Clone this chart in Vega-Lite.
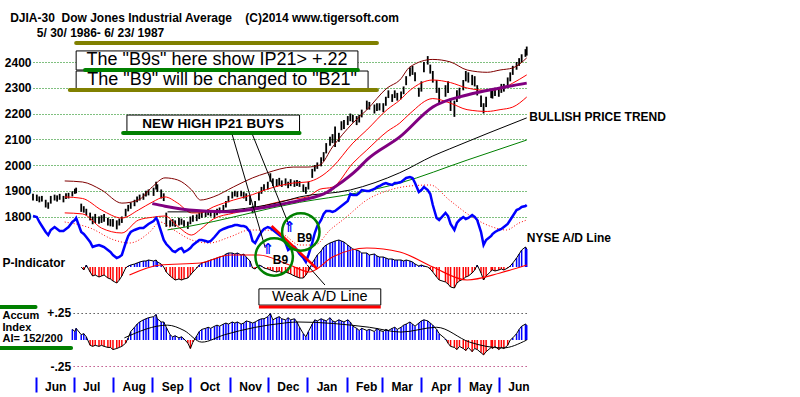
{
"$schema":"https://vega.github.io/schema/vega-lite/v6.json",
"width":495,"height":377,
"autosize":{"type":"none"},
"padding":{"left":33,"top":0,"right":272,"bottom":20},
"background":"#ffffff",
"config":{"view":{"stroke":null},"font":"Liberation Sans"},
"resolve":{"scale":{"y":"independent"}},
"datasets":{
"d":[
{"d":"1986-05-30","h":1888,"l":1862,"a":440},
{"d":"1986-06-02","h":1885,"l":1860,"a":430},
{"d":"1986-06-04","h":1878,"l":1855,"a":380},
{"d":"1986-06-06","h":1880,"l":1858,"a":340},
{"d":"1986-06-09","h":1865,"l":1835,"a":280},
{"d":"1986-06-11","h":1855,"l":1830,"a":250},
{"d":"1986-06-13","h":1880,"l":1850,"a":300},
{"d":"1986-06-16","h":1885,"l":1862,"a":330},
{"d":"1986-06-18","h":1882,"l":1858,"a":310},
{"d":"1986-06-20","h":1888,"l":1865,"a":290},
{"d":"1986-06-23","h":1880,"l":1855,"a":290},
{"d":"1986-06-25","h":1890,"l":1868,"a":310},
{"d":"1986-06-27","h":1892,"l":1870,"a":330},
{"d":"1986-06-30","h":1898,"l":1878,"a":380,"ai":0.10},
{"d":"1986-07-02","h":1908,"l":1888,"a":400,"ai":0.08},
{"d":"1986-07-03","h":1912,"l":1890,"a":420,"ai":0.11},
{"d":"1986-07-07","h":1850,"l":1818,"a":280,"pi":0,"ai":0.05},
{"d":"1986-07-09","h":1840,"l":1815,"a":260,"pi":-30,"ai":0.06},
{"d":"1986-07-11","h":1830,"l":1805,"a":230,"pi":20,"ai":0.03},
{"d":"1986-07-14","h":1815,"l":1785,"a":180,"pi":-50,"ai":-0.05},
{"d":"1986-07-16","h":1800,"l":1770,"a":130,"pi":-90,"ai":-0.06},
{"d":"1986-07-18","h":1810,"l":1775,"a":140,"pi":-80,"ai":-0.05},
{"d":"1986-07-21","h":1800,"l":1772,"a":150,"pi":-100,"ai":-0.06},
{"d":"1986-07-23","h":1805,"l":1775,"a":140,"pi":-90,"ai":-0.05},
{"d":"1986-07-25","h":1810,"l":1780,"a":130,"pi":-80,"ai":-0.06},
{"d":"1986-07-28","h":1795,"l":1765,"a":100,"pi":-110,"ai":-0.07},
{"d":"1986-07-30","h":1790,"l":1762,"a":80,"pi":-120,"ai":-0.07},
{"d":"1986-08-01","h":1790,"l":1760,"a":50,"pi":-140,"ai":-0.09},
{"d":"1986-08-04","h":1785,"l":1750,"a":20,"pi":-160,"ai":-0.08},
{"d":"1986-08-06","h":1792,"l":1765,"a":30,"pi":-130,"ai":-0.07},
{"d":"1986-08-08","h":1800,"l":1775,"a":50,"pi":-90,"ai":-0.06},
{"d":"1986-08-11","h":1830,"l":1800,"a":170,"pi":-10,"ai":-0.03},
{"d":"1986-08-13","h":1845,"l":1820,"a":240,"pi":10,"ai":0.02},
{"d":"1986-08-15","h":1855,"l":1830,"a":280,"pi":20,"ai":0.08},
{"d":"1986-08-18","h":1865,"l":1840,"a":300,"pi":30,"ai":0.12},
{"d":"1986-08-20","h":1878,"l":1855,"a":310,"pi":40,"ai":0.15},
{"d":"1986-08-22","h":1885,"l":1862,"a":320,"pi":50,"ai":0.17},
{"d":"1986-08-25","h":1890,"l":1865,"a":320,"pi":60,"ai":0.19},
{"d":"1986-08-27","h":1900,"l":1878,"a":340,"pi":60,"ai":0.20},
{"d":"1986-08-29","h":1905,"l":1882,"a":360,"pi":70,"ai":0.21},
{"d":"1986-09-02","h":1912,"l":1880,"a":390,"pi":60,"ai":0.22},
{"d":"1986-09-04","h":1935,"l":1905,"a":420,"pi":70,"ai":0.24},
{"d":"1986-09-05","h":1925,"l":1895,"a":400,"pi":50,"ai":0.20},
{"d":"1986-09-08","h":1905,"l":1870,"a":280,"pi":30,"ai":0.17},
{"d":"1986-09-10","h":1890,"l":1860,"a":200,"pi":0,"ai":0.17},
{"d":"1986-09-12","h":1815,"l":1760,"a":160,"pi":-50,"ai":0.12},
{"d":"1986-09-15","h":1785,"l":1760,"a":120,"pi":-90,"ai":0.05},
{"d":"1986-09-17","h":1790,"l":1762,"a":90,"pi":-110,"ai":0.03},
{"d":"1986-09-19","h":1785,"l":1760,"a":80,"pi":-130,"ai":0.04},
{"d":"1986-09-22","h":1795,"l":1765,"a":110,"pi":-120,"ai":0.02},
{"d":"1986-09-24","h":1792,"l":1768,"a":120,"pi":-130,"ai":0.03},
{"d":"1986-09-26","h":1785,"l":1760,"a":80,"pi":-120,"ai":0.01},
{"d":"1986-09-29","h":1780,"l":1752,"a":100,"pi":-110,"ai":-0.03},
{"d":"1986-10-01","h":1800,"l":1770,"a":120,"pi":-80,"ai":-0.08},
{"d":"1986-10-03","h":1805,"l":1780,"a":150,"pi":-50,"ai":-0.02},
{"d":"1986-10-06","h":1808,"l":1782,"a":180,"pi":-10,"ai":0.04},
{"d":"1986-10-08","h":1815,"l":1790,"a":200,"pi":20,"ai":0.08},
{"d":"1986-10-10","h":1818,"l":1795,"a":200,"pi":40,"ai":0.10},
{"d":"1986-10-13","h":1822,"l":1798,"a":190,"pi":50,"ai":0.11},
{"d":"1986-10-15","h":1828,"l":1805,"a":180,"pi":60,"ai":0.12},
{"d":"1986-10-17","h":1825,"l":1800,"a":190,"pi":70,"ai":0.11},
{"d":"1986-10-20","h":1820,"l":1795,"a":230,"pi":80,"ai":0.13},
{"d":"1986-10-22","h":1830,"l":1805,"a":260,"pi":90,"ai":0.14},
{"d":"1986-10-24","h":1835,"l":1812,"a":290,"pi":100,"ai":0.13},
{"d":"1986-10-27","h":1845,"l":1820,"a":310,"pi":110,"ai":0.15},
{"d":"1986-10-29","h":1860,"l":1835,"a":320,"pi":130,"ai":0.16},
{"d":"1986-10-31","h":1880,"l":1855,"a":330,"pi":140,"ai":0.15},
{"d":"1986-11-03","h":1895,"l":1870,"a":340,"pi":140,"ai":0.17},
{"d":"1986-11-05","h":1900,"l":1878,"a":350,"pi":130,"ai":0.16},
{"d":"1986-11-07","h":1898,"l":1875,"a":350,"pi":140,"ai":0.17},
{"d":"1986-11-10","h":1900,"l":1878,"a":340,"pi":120,"ai":0.15},
{"d":"1986-11-12","h":1895,"l":1870,"a":340,"pi":130,"ai":0.16},
{"d":"1986-11-14","h":1890,"l":1860,"a":330,"pi":100,"ai":0.18},
{"d":"1986-11-17","h":1880,"l":1845,"a":280,"pi":60,"ai":0.17},
{"d":"1986-11-19","h":1840,"l":1812,"a":190,"pi":-10,"ai":0.16},
{"d":"1986-11-21","h":1860,"l":1825,"a":170,"pi":-20,"ai":0.17},
{"d":"1986-11-24","h":1895,"l":1862,"a":240,"pi":20,"ai":0.19},
{"d":"1986-11-26","h":1915,"l":1888,"a":280,"pi":10,"ai":0.20},
{"d":"1986-11-28","h":1925,"l":1900,"a":310,"pi":-10,"ai":0.20},
{"d":"1986-12-01","h":1935,"l":1905,"a":330,"pi":-20,"ai":0.22},
{"d":"1986-12-03","h":1968,"l":1935,"a":320,"pi":-30,"ai":0.25},
{"d":"1986-12-05","h":1948,"l":1918,"a":300,"pi":-40,"ai":0.19},
{"d":"1986-12-08","h":1945,"l":1915,"a":270,"pi":-50,"ai":0.21},
{"d":"1986-12-10","h":1950,"l":1920,"a":250,"pi":-40,"ai":0.22},
{"d":"1986-12-12","h":1940,"l":1915,"a":230,"pi":-60,"ai":0.20},
{"d":"1986-12-15","h":1948,"l":1920,"a":170,"pi":-50,"ai":0.19},
{"d":"1986-12-17","h":1935,"l":1910,"a":100,"pi":-60,"ai":0.21},
{"d":"1986-12-19","h":1945,"l":1918,"a":120,"pi":-70,"ai":0.19},
{"d":"1986-12-22","h":1940,"l":1915,"a":130,"pi":-90,"ai":0.20},
{"d":"1986-12-24","h":1942,"l":1918,"a":100,"pi":-100,"ai":0.17},
{"d":"1986-12-26","h":1938,"l":1915,"a":60,"pi":-110,"ai":0.12},
{"d":"1986-12-29","h":1925,"l":1895,"a":20,"pi":-110,"ai":0.06},
{"d":"1986-12-31","h":1915,"l":1888,"a":-20,"pi":-80,"ai":0.03},
{"d":"1987-01-02","h":1935,"l":1905,"a":50,"pi":-40,"ai":0.08},
{"d":"1987-01-05","h":1985,"l":1950,"a":170,"pi":40,"ai":0.15},
{"d":"1987-01-07","h":2000,"l":1975,"a":270,"pi":80,"ai":0.19},
{"d":"1987-01-09","h":2010,"l":1985,"a":340,"pi":120,"ai":0.18},
{"d":"1987-01-12","h":2030,"l":1995,"a":400,"pi":160,"ai":0.20},
{"d":"1987-01-14","h":2050,"l":2015,"a":460,"pi":200,"ai":0.19},
{"d":"1987-01-16","h":2085,"l":2045,"a":490,"pi":220,"ai":0.18},
{"d":"1987-01-19","h":2110,"l":2075,"a":490,"pi":240,"ai":0.21},
{"d":"1987-01-21","h":2120,"l":2085,"a":480,"pi":250,"ai":0.18},
{"d":"1987-01-23","h":2150,"l":2070,"a":490,"pi":260,"ai":0.17},
{"d":"1987-01-26","h":2125,"l":2090,"a":520,"pi":270,"ai":0.19},
{"d":"1987-01-28","h":2170,"l":2135,"a":540,"pi":260,"ai":0.18},
{"d":"1987-01-30","h":2175,"l":2140,"a":560,"pi":250,"ai":0.17},
{"d":"1987-02-02","h":2190,"l":2155,"a":590,"pi":220,"ai":0.19},
{"d":"1987-02-04","h":2200,"l":2170,"a":660,"pi":200,"ai":0.17},
{"d":"1987-02-06","h":2195,"l":2165,"a":650,"pi":180,"ai":0.13},
{"d":"1987-02-09","h":2190,"l":2155,"a":650,"pi":170,"ai":0.11},
{"d":"1987-02-11","h":2195,"l":2165,"a":670,"pi":160,"ai":0.09},
{"d":"1987-02-13","h":2215,"l":2185,"a":700,"pi":140,"ai":0.11},
{"d":"1987-02-17","h":2250,"l":2215,"a":690,"pi":140,"ai":0.09},
{"d":"1987-02-19","h":2245,"l":2215,"a":690,"pi":120,"ai":0.10},
{"d":"1987-02-23","h":2235,"l":2200,"a":710,"pi":130,"ai":0.08},
{"d":"1987-02-25","h":2240,"l":2210,"a":730,"pi":110,"ai":0.11},
{"d":"1987-02-27","h":2240,"l":2212,"a":740,"pi":100,"ai":0.09},
{"d":"1987-03-02","h":2240,"l":2205,"a":760,"pi":100,"ai":0.08},
{"d":"1987-03-04","h":2265,"l":2230,"a":770,"pi":90,"ai":0.10},
{"d":"1987-03-06","h":2290,"l":2260,"a":760,"pi":80,"ai":0.09},
{"d":"1987-03-09","h":2275,"l":2245,"a":750,"pi":80,"ai":0.11},
{"d":"1987-03-11","h":2290,"l":2260,"a":770,"pi":70,"ai":0.12},
{"d":"1987-03-13","h":2280,"l":2250,"a":770,"pi":70,"ai":0.10},
{"d":"1987-03-16","h":2285,"l":2255,"a":780,"pi":70,"ai":0.12},
{"d":"1987-03-18","h":2305,"l":2275,"a":800,"pi":60,"ai":0.14},
{"d":"1987-03-20","h":2345,"l":2310,"a":820,"pi":70,"ai":0.15},
{"d":"1987-03-23","h":2380,"l":2345,"a":830,"pi":60,"ai":0.17},
{"d":"1987-03-25","h":2385,"l":2350,"a":820,"pi":50,"ai":0.15},
{"d":"1987-03-27","h":2360,"l":2325,"a":770,"pi":30,"ai":0.13},
{"d":"1987-03-30","h":2300,"l":2265,"a":680,"pi":10,"ai":0.16},
{"d":"1987-04-01","h":2325,"l":2285,"a":700,"pi":20,"ai":0.18},
{"d":"1987-04-03","h":2400,"l":2360,"a":730,"pi":10,"ai":0.19},
{"d":"1987-04-06","h":2423,"l":2390,"a":700,"pi":0,"ai":0.18},
{"d":"1987-04-08","h":2390,"l":2355,"a":660,"pi":-20,"ai":0.16},
{"d":"1987-04-10","h":2365,"l":2320,"a":550,"pi":-50,"ai":0.14},
{"d":"1987-04-13","h":2330,"l":2280,"a":420,"pi":-100,"ai":0.10},
{"d":"1987-04-15","h":2300,"l":2240,"a":400,"pi":-130,"ai":0.06},
{"d":"1987-04-20","h":2310,"l":2265,"a":470,"pi":-150,"ai":0.01},
{"d":"1987-04-22","h":2325,"l":2280,"a":440,"pi":-170,"ai":-0.03},
{"d":"1987-04-24","h":2260,"l":2210,"a":360,"pi":-200,"ai":-0.06},
{"d":"1987-04-27","h":2250,"l":2187,"a":300,"pi":-210,"ai":-0.07},
{"d":"1987-04-29","h":2290,"l":2245,"a":370,"pi":-160,"ai":-0.09},
{"d":"1987-05-01","h":2300,"l":2258,"a":400,"pi":-140,"ai":-0.06},
{"d":"1987-05-04","h":2330,"l":2290,"a":430,"pi":-120,"ai":-0.08},
{"d":"1987-05-06","h":2365,"l":2325,"a":410,"pi":-100,"ai":-0.10},
{"d":"1987-05-08","h":2360,"l":2320,"a":420,"pi":-90,"ai":-0.07},
{"d":"1987-05-11","h":2350,"l":2310,"a":450,"pi":-60,"ai":-0.11},
{"d":"1987-05-13","h":2345,"l":2305,"a":430,"pi":-30,"ai":-0.08},
{"d":"1987-05-15","h":2310,"l":2270,"a":400,"pi":20,"ai":-0.09},
{"d":"1987-05-18","h":2270,"l":2225,"a":280,"pi":-60,"ai":-0.12},
{"d":"1987-05-20","h":2240,"l":2200,"a":150,"pi":-130,"ai":-0.14},
{"d":"1987-05-22","h":2265,"l":2225,"a":200,"pi":-90,"ai":-0.11},
{"d":"1987-05-26","h":2295,"l":2260,"a":240,"pi":-40,"ai":-0.07},
{"d":"1987-05-27","h":2290,"l":2258,"a":260,"pi":-30,"ai":-0.08},
{"d":"1987-05-29","h":2300,"l":2268,"a":280,"pi":-40,"ai":-0.06},
{"d":"1987-06-01","h":2298,"l":2265,"a":300,"pi":-30,"ai":-0.09},
{"d":"1987-06-03","h":2315,"l":2280,"a":310,"pi":-20,"ai":-0.07},
{"d":"1987-06-05","h":2315,"l":2285,"a":330,"pi":-30,"ai":-0.08},
{"d":"1987-06-08","h":2340,"l":2305,"a":360,"pi":-10,"ai":-0.05},
{"d":"1987-06-10","h":2360,"l":2325,"a":400,"pi":10,"ai":0.00},
{"d":"1987-06-12","h":2385,"l":2350,"a":440,"pi":40,"ai":0.02},
{"d":"1987-06-15","h":2400,"l":2370,"a":500,"pi":90,"ai":0.06},
{"d":"1987-06-17","h":2415,"l":2385,"a":510,"pi":130,"ai":0.10},
{"d":"1987-06-19","h":2430,"l":2400,"a":530,"pi":170,"ai":0.13},
{"d":"1987-06-22","h":2450,"l":2420,"a":540,"pi":200,"ai":0.15},
{"d":"1987-06-23","h":2460,"l":2425,"a":550,"pi":180,"ai":0.14}
],
"bands":[
{"d":"1986-06-24","u":1938,"m":1876,"lo":1814},
{"d":"1986-07-08","u":1934,"m":1870,"lo":1810},
{"d":"1986-07-23","u":1903,"m":1825,"lo":1755},
{"d":"1986-08-08","u":1852,"m":1794,"lo":1736},
{"d":"1986-08-21","u":1864,"m":1825,"lo":1786},
{"d":"1986-09-01","u":1915,"m":1856,"lo":1797},
{"d":"1986-09-11","u":1950,"m":1876,"lo":1802},
{"d":"1986-09-21","u":1942,"m":1852,"lo":1762},
{"d":"1986-10-02","u":1903,"m":1814,"lo":1728},
{"d":"1986-10-09","u":1864,"m":1814,"lo":1750},
{"d":"1986-10-19","u":1876,"m":1837,"lo":1790},
{"d":"1986-11-04","u":1915,"m":1864,"lo":1813},
{"d":"1986-11-19","u":1950,"m":1885,"lo":1830},
{"d":"1986-11-30","u":1969,"m":1905,"lo":1845},
{"d":"1986-12-21","u":1992,"m":1930,"lo":1868},
{"d":"1987-01-01","u":1992,"m":1934,"lo":1876},
{"d":"1987-01-11","u":2000,"m":1953,"lo":1906},
{"d":"1987-01-21","u":2070,"m":1992,"lo":1914},
{"d":"1987-02-06","u":2163,"m":2085,"lo":2007},
{"d":"1987-02-17","u":2214,"m":2136,"lo":2058},
{"d":"1987-03-05","u":2299,"m":2215,"lo":2130},
{"d":"1987-03-15","u":2330,"m":2252,"lo":2163},
{"d":"1987-03-23","u":2381,"m":2290,"lo":2200},
{"d":"1987-04-10","u":2410,"m":2330,"lo":2258},
{"d":"1987-04-24","u":2400,"m":2320,"lo":2240},
{"d":"1987-05-07","u":2369,"m":2299,"lo":2215},
{"d":"1987-05-23","u":2360,"m":2290,"lo":2208},
{"d":"1987-06-02","u":2369,"m":2295,"lo":2215},
{"d":"1987-06-12","u":2377,"m":2318,"lo":2225},
{"d":"1987-06-23","u":2416,"m":2350,"lo":2264}
],
"ma":[
{"d":"1986-09-01","p":1850},{"d":"1986-09-11","p":1840},{"d":"1986-09-30","p":1825},{"d":"1986-10-29","p":1818},{"d":"1986-11-19","p":1828},{"d":"1986-12-16","p":1852},{"d":"1986-12-28","p":1864},{"d":"1987-01-17","p":1895},{"d":"1987-01-23","p":1915},{"d":"1987-02-10","p":1985},{"d":"1987-02-17","p":2020},{"d":"1987-03-15","p":2109},{"d":"1987-04-10","p":2225},{"d":"1987-05-07","p":2272},{"d":"1987-06-02","p":2299},{"d":"1987-06-23","p":2318}
],
"bt":[
{"d":"1986-09-13","b":1818},{"d":"1986-10-03","b":1818},{"d":"1986-12-08","b":1852},{"d":"1986-12-26","b":1876},{"d":"1987-02-04","b":1903},{"d":"1987-03-15","b":1970},{"d":"1987-04-10","b":2035},{"d":"1987-04-23","b":2062},{"d":"1987-06-23","b":2183}
],
"gt":[
{"d":"1986-09-13","g":1748},{"d":"1986-09-27","g":1759},{"d":"1986-12-26","g":1855},{"d":"1987-02-10","g":1892},{"d":"1987-03-15","g":1930},{"d":"1987-05-07","g":2019},{"d":"1987-06-23","g":2097}
],
"adma":[
{"d":"1986-06-24","a":380},{"d":"1986-07-14","a":320},{"d":"1986-08-02","a":200},{"d":"1986-08-14","a":170},{"d":"1986-08-30","a":280},{"d":"1986-09-07","a":380},{"d":"1986-09-18","a":300},{"d":"1986-10-02","a":200},{"d":"1986-10-16","a":170},{"d":"1986-11-01","a":230},{"d":"1986-11-17","a":300},{"d":"1986-11-28","a":300},{"d":"1986-12-14","a":250},{"d":"1986-12-26","a":150},{"d":"1987-01-07","a":150},{"d":"1987-01-19","a":300},{"d":"1987-01-31","a":420},{"d":"1987-02-17","a":600},{"d":"1987-03-07","a":700},{"d":"1987-03-23","a":740},{"d":"1987-04-08","a":750},{"d":"1987-04-23","a":600},{"d":"1987-05-11","a":430},{"d":"1987-05-27","a":330},{"d":"1987-06-07","a":300},{"d":"1987-06-17","a":370},{"d":"1987-06-23","a":400}
],
"pma":[
{"d":"1986-08-14","pi":-80},{"d":"1986-09-07","pi":20},{"d":"1986-10-09","pi":40},{"d":"1986-11-01","pi":120},{"d":"1986-11-24","pi":120},{"d":"1986-12-18","pi":20},{"d":"1987-01-03","pi":-50},{"d":"1987-01-21","pi":100},{"d":"1987-02-17","pi":190},{"d":"1987-03-15","pi":150},{"d":"1987-04-10","pi":0},{"d":"1987-05-07","pi":-130},{"d":"1987-06-02","pi":-60},{"d":"1987-06-23","pi":20}
],
"aima":[
{"d":"1986-08-10","ai":0.02},{"d":"1986-09-13","ai":0.14},{"d":"1986-09-26","ai":0.09},{"d":"1986-10-10","ai":-0.02},{"d":"1986-10-28","ai":0.05},{"d":"1986-12-14","ai":0.16},{"d":"1986-12-24","ai":0.17},{"d":"1987-02-19","ai":0.12},{"d":"1987-03-16","ai":0.075},{"d":"1987-04-13","ai":0.12},{"d":"1987-05-09","ai":-0.02},{"d":"1987-06-04","ai":-0.075},{"d":"1987-06-23","ai":0.0}
],
"accl":[{"d":"1986-07-01","d2":"1987-06-24","a":0.25},{"d":"1986-07-01","d2":"1987-06-24","a":-0.25}],
"acclab":[{"d":"1986-06-29","a":0.25,"t":"+.25"},{"d":"1986-06-29","a":-0.25,"t":"-.25"}],
"boxes":[{"d":"1986-07-03","d2":"1987-02-10","p":2443,"p2":2369},{"d":"1986-07-03","d2":"1987-02-18","p":2365,"p2":2295},{"d":"1986-08-12","d2":"1986-12-26","p":2194,"p2":2128},{"d":"1986-11-24","d2":"1987-02-28","p":1519,"p2":1456}],
"olive":[{"d":"1986-07-03","d2":"1987-02-25","p":2474},{"d":"1986-06-28","d2":"1987-02-25","p":2291}],
"grn":[{"d":"1986-07-10","d2":"1987-02-10","p":2369},{"d":"1986-08-09","d2":"1986-12-26","p":2124},{"d":"1986-05-04","d2":"1986-06-01","p":1449},{"d":"1986-05-04","d2":"1986-06-29","p":1289}],
"redu":[{"d":"1986-11-24","d2":"1987-02-28","p":1449}],
"lead":[{"d":"1986-11-03","p":2117,"d2":"1986-11-29","p2":1678},{"d":"1986-11-19","p":2117,"d2":"1986-12-18","p2":1763},{"d":"1987-01-01","p":1612,"d2":"1987-01-15","p2":1534}],
"redl":[{"d":"1986-12-04","p":1763,"d2":"1987-01-09","p2":1596}],
"circ":[{"d":"1986-12-27","p":1740},{"d":"1986-12-06","p":1643}],
"hdr":[{"d":"1986-05-12","p":2571,"t":"DJIA-30\u00a0 Dow Jones Industrial Average\u00a0\u00a0\u00a0 (C)2014 www.tigersoft.com"},{"d":"1986-06-02","p":2513,"t":"5/ 30/ 1986- 6/ 23/ 1987"}],
"big":[{"d":"1986-10-22","p":2406,"t":"The \"B9s\" here show IP21> +.22"},{"d":"1986-10-26","p":2330,"t":"The \"B9\" will be changed to \"B21\""}],
"weak":[{"d":"1987-01-11","p":1487,"t":"Weak A/D Line"}],
"nh":[{"d":"1986-10-19","p":2159,"t":"NEW HIGH IP21 BUYS"}],
"lbl":[{"d":"1987-06-25","p":2186,"t":"BULLISH PRICE TREND"},{"d":"1987-06-23","p":1717,"t":"NYSE A/D Line"},{"d":"1986-05-06","p":1620,"t":"P-Indicator"}],
"acc":[{"d":"1986-05-06","p":1412,"t":"Accum"},{"d":"1986-05-06","p":1368,"t":"Index"},{"d":"1986-05-06","p":1324,"t":"AI= 152/200"}],
"b9":[{"d":"1986-12-30","p":1718,"t":"B9"},{"d":"1986-12-11","p":1633,"t":"B9"}],
"arr":[{"d":"1986-12-18","p":1758,"t":"⇑"},{"d":"1986-12-01","p":1672,"t":"⇑"}]
},
"layer":[
 {"data":{"name":"d"},"mark":{"type":"rule","color":"#000000","strokeWidth":1.8},
  "encoding":{
   "x":{"field":"d","type":"temporal","title":null,"scale":{"type":"utc","domain":[{"year":1986,"month":5,"date":30,"utc":true},{"year":1987,"month":6,"date":24,"utc":true}]},
        "axis":{"title":null,"format":"%b","tickCount":{"interval":"month","step":1},"domain":false,"grid":false,"ticks":true,"tickColor":"#0000ff","tickWidth":2,"tickSize":15,"labelAlign":"left","labelOffset":9,"labelPadding":-11,"labelBaseline":"top","labelFont":"Liberation Sans","labelFontWeight":"bold","labelFontSize":12,"labelColor":"#000000","labelOverlap":false,"labelFlush":false,"labelBound":false}},
   "y":{"field":"l","type":"quantitative","scale":{"domain":[1176.7,2640.8],"nice":false,"zero":false},
        "axis":{"title":null,"format":"d","values":[1800,1900,2000,2100,2200,2300,2400],"domain":false,"ticks":false,"labelPadding":2,"labelFont":"Liberation Sans","labelFontWeight":"bold","labelFontSize":12,"labelColor":"#000000","grid":true,"gridColor":"#008000","gridDash":[1,2],"gridWidth":1,"gridOpacity":1}},
   "y2":{"field":"h"}}},
 {"data":{"name":"bands"},"mark":{"type":"line","color":"#800000","strokeWidth":1,"interpolate":"monotone"},"encoding":{"x":{"field":"d","type":"temporal","title":null},"y":{"field":"u","type":"quantitative","axis":null,"scale":{"domain":[1176.7,2640.8],"nice":false,"zero":false}}}},
 {"data":{"name":"bands"},"mark":{"type":"line","color":"#ff0000","strokeWidth":1,"interpolate":"monotone"},"encoding":{"x":{"field":"d","type":"temporal","title":null},"y":{"field":"m","type":"quantitative","axis":null,"scale":{"domain":[1176.7,2640.8],"nice":false,"zero":false}}}},
 {"data":{"name":"bands"},"mark":{"type":"line","color":"#ff0000","strokeWidth":1,"interpolate":"monotone"},"encoding":{"x":{"field":"d","type":"temporal","title":null},"y":{"field":"lo","type":"quantitative","axis":null,"scale":{"domain":[1176.7,2640.8],"nice":false,"zero":false}}}},
 {"data":{"name":"bt"},"mark":{"type":"line","color":"#000000","strokeWidth":1,"interpolate":"monotone"},"encoding":{"x":{"field":"d","type":"temporal","title":null},"y":{"field":"b","type":"quantitative","axis":null,"scale":{"domain":[1176.7,2640.8],"nice":false,"zero":false}}}},
 {"data":{"name":"gt"},"mark":{"type":"line","color":"#008000","strokeWidth":1,"interpolate":"monotone"},"encoding":{"x":{"field":"d","type":"temporal","title":null},"y":{"field":"g","type":"quantitative","axis":null,"scale":{"domain":[1176.7,2640.8],"nice":false,"zero":false}}}},
 {"data":{"name":"ma"},"mark":{"type":"line","color":"#800080","strokeWidth":3,"interpolate":"monotone"},"encoding":{"x":{"field":"d","type":"temporal","title":null},"y":{"field":"p","type":"quantitative","axis":null,"scale":{"domain":[1176.7,2640.8],"nice":false,"zero":false}}}},
 {"data":{"name":"adma"},"mark":{"type":"line","color":"#ff0000","strokeWidth":1,"strokeDash":[1,2],"interpolate":"monotone"},"encoding":{"x":{"field":"d","type":"temporal","title":null},"y":{"field":"a","type":"quantitative","axis":null,"scale":{"domain":[-1170,2600],"nice":false,"zero":false}}}},
 {"data":{"name":"d"},"mark":{"type":"line","color":"#0000ff","strokeWidth":2.5},"encoding":{"x":{"field":"d","type":"temporal","title":null},"y":{"field":"a","type":"quantitative","axis":null,"scale":{"domain":[-1170,2600],"nice":false,"zero":false}}}},
 {"data":{"name":"d"},"mark":{"type":"rule","strokeWidth":1.5},"encoding":{"x":{"field":"d","type":"temporal","title":null},"y":{"field":"pi","type":"quantitative","axis":null,"scale":{"domain":[-1100,2670],"nice":false,"zero":false}},"y2":{"datum":0},"color":{"condition":{"test":"datum.pi >= 0","value":"#0000ff"},"value":"#ff0000"}}},
 {"data":{"name":"d"},"mark":{"type":"line","color":"#000000","strokeWidth":1},"encoding":{"x":{"field":"d","type":"temporal","title":null},"y":{"field":"pi","type":"quantitative","axis":null,"scale":{"domain":[-1100,2670],"nice":false,"zero":false}}}},
 {"data":{"name":"pma"},"mark":{"type":"line","color":"#ff0000","strokeWidth":1.2,"interpolate":"monotone"},"encoding":{"x":{"field":"d","type":"temporal","title":null},"y":{"field":"pi","type":"quantitative","axis":null,"scale":{"domain":[-1100,2670],"nice":false,"zero":false}}}},
 {"data":{"name":"accl"},"mark":{"type":"rule","strokeWidth":1,"strokeDash":[1,3]},"encoding":{"x":{"field":"d","type":"temporal","title":null},"x2":{"field":"d2"},"y":{"field":"a","type":"quantitative","axis":null,"scale":{"domain":[-0.3489,3.2062],"nice":false,"zero":false}},"color":{"condition":{"test":"datum.a > 0","value":"#000000"},"value":"#a00050"}}},
 {"data":{"name":"acclab"},"mark":{"type":"text","align":"right","baseline":"middle","font":"Liberation Sans","fontWeight":"bold","fontSize":12,"color":"#000000"},"encoding":{"x":{"field":"d","type":"temporal","title":null},"y":{"field":"a","type":"quantitative","axis":null,"scale":{"domain":[-0.3489,3.2062],"nice":false,"zero":false}},"text":{"field":"t"}}},
 {"data":{"name":"d"},"mark":{"type":"rule","strokeWidth":1.5},"encoding":{"x":{"field":"d","type":"temporal","title":null},"y":{"field":"ai","type":"quantitative","axis":null,"scale":{"domain":[-0.3489,3.2062],"nice":false,"zero":false}},"y2":{"datum":0},"color":{"condition":{"test":"datum.ai >= 0","value":"#0000ff"},"value":"#ff0000"}}},
 {"data":{"name":"d"},"mark":{"type":"line","color":"#000000","strokeWidth":1},"encoding":{"x":{"field":"d","type":"temporal","title":null},"y":{"field":"ai","type":"quantitative","axis":null,"scale":{"domain":[-0.3489,3.2062],"nice":false,"zero":false}}}},
 {"data":{"name":"aima"},"mark":{"type":"line","color":"#000000","strokeWidth":1,"interpolate":"monotone"},"encoding":{"x":{"field":"d","type":"temporal","title":null},"y":{"field":"ai","type":"quantitative","axis":null,"scale":{"domain":[-0.3489,3.2062],"nice":false,"zero":false}}}},
 {"data":{"name":"boxes"},"mark":{"type":"rect","fill":"#ffffff","stroke":"#000000","strokeWidth":1},"encoding":{"x":{"field":"d","type":"temporal","title":null},"x2":{"field":"d2"},"y":{"field":"p","type":"quantitative","axis":null,"scale":{"domain":[1176.7,2640.8],"nice":false,"zero":false}},"y2":{"field":"p2"}}},
 {"data":{"name":"olive"},"mark":{"type":"rule","color":"#808000","strokeWidth":4,"strokeCap":"round"},"encoding":{"x":{"field":"d","type":"temporal","title":null},"x2":{"field":"d2"},"y":{"field":"p","type":"quantitative","axis":null,"scale":{"domain":[1176.7,2640.8],"nice":false,"zero":false}}}},
 {"data":{"name":"grn"},"mark":{"type":"rule","color":"#008000","strokeWidth":4,"strokeCap":"round"},"encoding":{"x":{"field":"d","type":"temporal","title":null},"x2":{"field":"d2"},"y":{"field":"p","type":"quantitative","axis":null,"scale":{"domain":[1176.7,2640.8],"nice":false,"zero":false}}}},
 {"data":{"name":"redu"},"mark":{"type":"rule","color":"#ff0000","strokeWidth":3},"encoding":{"x":{"field":"d","type":"temporal","title":null},"x2":{"field":"d2"},"y":{"field":"p","type":"quantitative","axis":null,"scale":{"domain":[1176.7,2640.8],"nice":false,"zero":false}}}},
 {"data":{"name":"lead"},"mark":{"type":"rule","color":"#000000","strokeWidth":1},"encoding":{"x":{"field":"d","type":"temporal","title":null},"x2":{"field":"d2"},"y":{"field":"p","type":"quantitative","axis":null,"scale":{"domain":[1176.7,2640.8],"nice":false,"zero":false}},"y2":{"field":"p2"}}},
 {"data":{"name":"redl"},"mark":{"type":"rule","color":"#ff0000","strokeWidth":2.5},"encoding":{"x":{"field":"d","type":"temporal","title":null},"x2":{"field":"d2"},"y":{"field":"p","type":"quantitative","axis":null,"scale":{"domain":[1176.7,2640.8],"nice":false,"zero":false}},"y2":{"field":"p2"}}},
 {"data":{"name":"circ"},"mark":{"type":"point","shape":"circle","filled":false,"size":1400,"stroke":"#008000","strokeWidth":2.5,"opacity":1},"encoding":{"x":{"field":"d","type":"temporal","title":null},"y":{"field":"p","type":"quantitative","axis":null,"scale":{"domain":[1176.7,2640.8],"nice":false,"zero":false}}}},
 {"data":{"name":"hdr"},"mark":{"type":"text","align":"left","baseline":"middle","font":"Liberation Sans","fontWeight":"bold","fontSize":12,"color":"#000000"},"encoding":{"x":{"field":"d","type":"temporal","title":null},"y":{"field":"p","type":"quantitative","axis":null,"scale":{"domain":[1176.7,2640.8],"nice":false,"zero":false}},"text":{"field":"t"}}},
 {"data":{"name":"big"},"mark":{"type":"text","align":"center","baseline":"middle","font":"Liberation Sans","fontSize":18,"color":"#000000"},"encoding":{"x":{"field":"d","type":"temporal","title":null},"y":{"field":"p","type":"quantitative","axis":null,"scale":{"domain":[1176.7,2640.8],"nice":false,"zero":false}},"text":{"field":"t"}}},
 {"data":{"name":"weak"},"mark":{"type":"text","align":"center","baseline":"middle","font":"Liberation Sans","fontSize":14.5,"color":"#000000"},"encoding":{"x":{"field":"d","type":"temporal","title":null},"y":{"field":"p","type":"quantitative","axis":null,"scale":{"domain":[1176.7,2640.8],"nice":false,"zero":false}},"text":{"field":"t"}}},
 {"data":{"name":"nh"},"mark":{"type":"text","align":"center","baseline":"middle","font":"Liberation Sans","fontWeight":"bold","fontSize":13.5,"color":"#000000"},"encoding":{"x":{"field":"d","type":"temporal","title":null},"y":{"field":"p","type":"quantitative","axis":null,"scale":{"domain":[1176.7,2640.8],"nice":false,"zero":false}},"text":{"field":"t"}}},
 {"data":{"name":"lbl"},"mark":{"type":"text","align":"left","baseline":"middle","font":"Liberation Sans","fontWeight":"bold","fontSize":12,"color":"#000000"},"encoding":{"x":{"field":"d","type":"temporal","title":null},"y":{"field":"p","type":"quantitative","axis":null,"scale":{"domain":[1176.7,2640.8],"nice":false,"zero":false}},"text":{"field":"t"}}},
 {"data":{"name":"acc"},"mark":{"type":"text","align":"left","baseline":"middle","font":"Liberation Sans","fontWeight":"bold","fontSize":11,"color":"#000000"},"encoding":{"x":{"field":"d","type":"temporal","title":null},"y":{"field":"p","type":"quantitative","axis":null,"scale":{"domain":[1176.7,2640.8],"nice":false,"zero":false}},"text":{"field":"t"}}},
 {"data":{"name":"b9"},"mark":{"type":"text","align":"center","baseline":"middle","font":"Liberation Sans","fontWeight":"bold","fontSize":12,"color":"#000000"},"encoding":{"x":{"field":"d","type":"temporal","title":null},"y":{"field":"p","type":"quantitative","axis":null,"scale":{"domain":[1176.7,2640.8],"nice":false,"zero":false}},"text":{"field":"t"}}},
 {"data":{"name":"arr"},"mark":{"type":"text","align":"center","baseline":"middle","font":"DejaVu Sans","fontWeight":"bold","fontSize":15,"color":"#0000ff"},"encoding":{"x":{"field":"d","type":"temporal","title":null},"y":{"field":"p","type":"quantitative","axis":null,"scale":{"domain":[1176.7,2640.8],"nice":false,"zero":false}},"text":{"field":"t"}}}
]
}
